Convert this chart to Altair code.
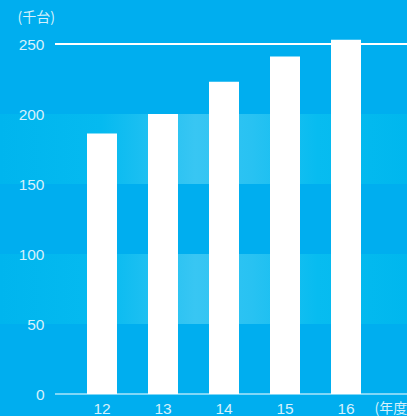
import altair as alt
import pandas as pd

years = ["12", "13", "14", "15", "16"]
values = [186, 200, 223, 241, 253]
band_lo = [50, 150]
band_hi = [100, 200]
y_ticks = [0, 50, 100, 150, 200, 250]

bars_df = pd.DataFrame({"year": years, "value": values})
bands_df = pd.DataFrame({"lo": band_lo, "hi": band_hi})
rules_df = pd.DataFrame({"v": [0, 250], "w": [1.2, 2]})

BG = "#00AEEF"
TXT = "#D6F1FC"
FONT = "Liberation Sans"

grad = alt.LinearGradient(
    gradient="linear",
    x1=0, x2=1, y1=0, y2=0,
    stops=[
        alt.GradientStop(color="#00B5EE", offset=0),
        alt.GradientStop(color="#05BAF0", offset=0.25),
        alt.GradientStop(color="#38C6F3", offset=0.48),
        alt.GradientStop(color="#28C2F2", offset=0.62),
        alt.GradientStop(color="#07BCF0", offset=0.78),
        alt.GradientStop(color="#00B7EE", offset=1),
    ],
)

yscale = alt.Scale(domain=[0, 250], nice=False, zero=True)

bands = alt.Chart(bands_df).mark_rect(color=grad, clip=False).encode(
    x=alt.value(-55),
    x2=alt.value(352),
    y=alt.Y("lo:Q", scale=yscale,
            axis=alt.Axis(values=y_ticks, title="(千台)", titleAngle=0,
                          titleX=-38, titleY=-27, titleAlign="left",
                          titleBaseline="middle", titleFont="Noto Sans CJK JP",
                          titleFontSize=14, titleFontWeight="normal",
                          titleColor=TXT, labelColor=TXT, labelFont=FONT,
                          labelFontSize=15.5, labelPadding=11, ticks=False,
                          domain=False, grid=False, zindex=2)),
    y2="hi:Q",
)

rules = alt.Chart(rules_df).mark_rule(color="white").encode(
    y=alt.Y("v:Q", scale=yscale),
    strokeWidth=alt.StrokeWidth("w:Q", scale=None, legend=None),
)

bars = alt.Chart(bars_df).mark_bar(color="white", size=30).encode(
    x=alt.X("year:N", sort=years,
            scale=alt.Scale(range=[16.5, 321.5], paddingInner=0.508, paddingOuter=0.254),
            axis=alt.Axis(title="(年度)", titleX=319, titleY=14, titleAlign="left",
                          titleBaseline="middle", titleFont="Noto Sans CJK JP",
                          titleFontSize=14, titleFontWeight="normal", titleColor=TXT,
                          labelColor=TXT, labelFont=FONT, labelFontSize=15.5,
                          labelPadding=7, labelAngle=0, ticks=False, domain=False,
                          zindex=2)),
    y=alt.Y("value:Q", scale=yscale),
)

chart = alt.layer(bands, rules, bars).properties(
    width=352, height=350,
    autosize=alt.AutoSizeParams(type="none"),
    padding={"left": 55, "top": 44, "right": 0, "bottom": 22},
    background=BG,
).configure_view(stroke=None, fill=BG)

chart.save("out.html", embed_options={"renderer": "svg", "actions": False})
